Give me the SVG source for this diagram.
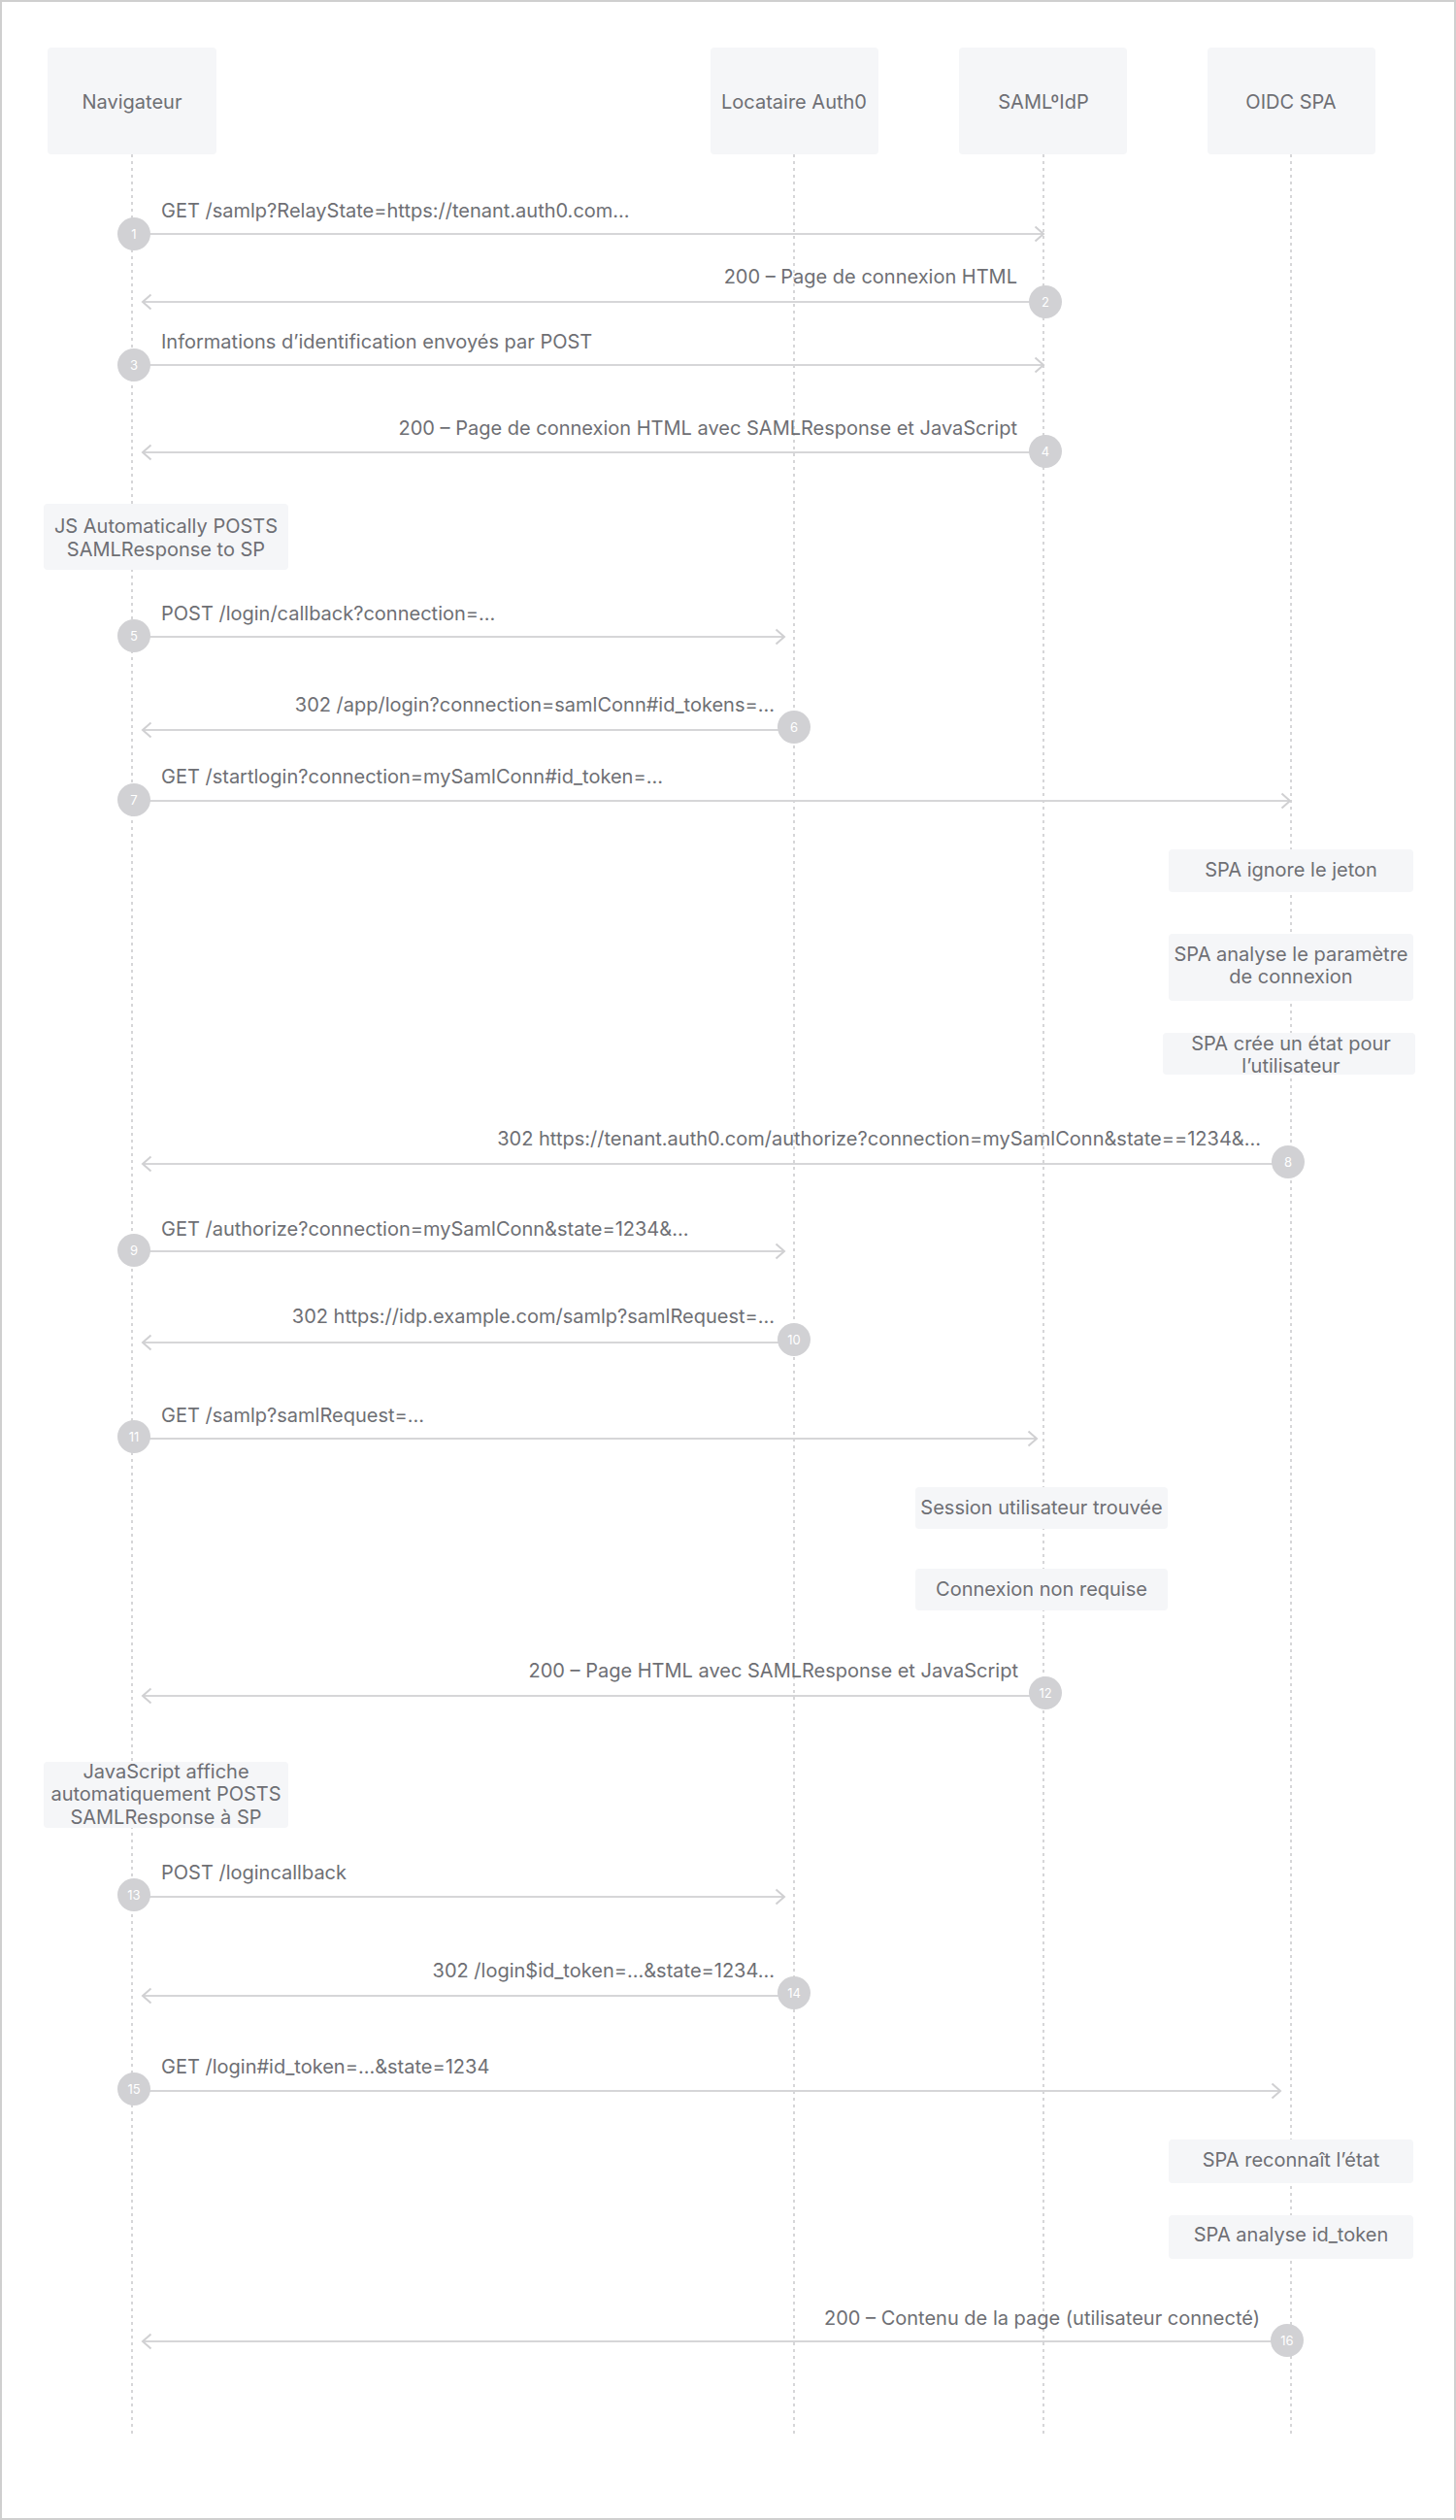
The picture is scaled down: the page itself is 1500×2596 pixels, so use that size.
<svg xmlns="http://www.w3.org/2000/svg" width="1500" height="2596" viewBox="0 0 1500 2596">
<style>
text{font-family:Inter,"Noto Sans","Liberation Sans",sans-serif;fill:#6e6f74;font-size:20px}
.hdr{fill:#f5f6f8}
.note{fill:#f5f6f8}
.life{stroke:#c9c9cb;stroke-width:1.5;stroke-dasharray:3 4;fill:none}
.msg{stroke:#d6d6d8;stroke-width:2;fill:none;marker-end:url(#arr)}
.num{fill:#d1d1d4}
.numt{fill:#ffffff;font-size:13px;text-anchor:middle}
.c{text-anchor:middle}
.e{text-anchor:end}
</style>
<defs>
<marker id="arr" viewBox="0 0 12 18" refX="10" refY="9" markerWidth="12" markerHeight="18" markerUnits="userSpaceOnUse" orient="auto">
<path d="M1.5,1.5 L10,9 L1.5,16.5" fill="none" stroke="#d0d0d2" stroke-width="2"/>
</marker>
</defs>
<rect x="1" y="1" width="1498" height="2594" fill="#ffffff" stroke="#cfcfcf" stroke-width="2"/>

<g id="lifelines">
<line class="life" x1="136" y1="159" x2="136" y2="2511"/>
<line class="life" x1="818" y1="159" x2="818" y2="2511"/>
<line class="life" x1="1075" y1="159" x2="1075" y2="2511"/>
<line class="life" x1="1330" y1="159" x2="1330" y2="2511"/>
</g>

<g id="node-navigateur"><rect class="hdr" x="49" y="49" width="174" height="110" rx="4"/><text class="c" x="136" y="112">Navigateur</text></g>
<g id="node-auth0"><rect class="hdr" x="732" y="49" width="173" height="110" rx="4"/><text class="c" x="818" y="112">Locataire Auth0</text></g>
<g id="node-samlidp"><rect class="hdr" x="988" y="49" width="173" height="110" rx="4"/><text class="c" x="1075" y="112">SAMLºIdP</text></g>
<g id="node-oidcspa"><rect class="hdr" x="1244" y="49" width="173" height="110" rx="4"/><text class="c" x="1330" y="112">OIDC SPA</text></g>

<g id="notes">
<g id="note-js"><rect class="note" x="45" y="519" width="252" height="68" rx="4"/><text class="c" x="171" y="549">JS Automatically POSTS</text><text class="c" x="171" y="573">SAMLResponse to SP</text></g>
<g id="note-ignore"><rect class="note" x="1204" y="875" width="252" height="44" rx="4"/><text class="c" x="1330" y="903">SPA ignore le jeton</text></g>
<g id="note-analyse"><rect class="note" x="1204" y="962" width="252" height="69" rx="4"/><text class="c" x="1330" y="990">SPA analyse le paramètre</text><text class="c" x="1330" y="1013">de connexion</text></g>
<g id="note-etat"><rect class="note" x="1198" y="1064" width="260" height="43" rx="4"/><text class="c" x="1330" y="1082">SPA crée un état pour</text><text class="c" x="1330" y="1105">l’utilisateur</text></g>
<g id="note-session"><rect class="note" x="943" y="1532" width="260" height="43" rx="4"/><text class="c" x="1073" y="1560">Session utilisateur trouvée</text></g>
<g id="note-connexion"><rect class="note" x="943" y="1616" width="260" height="43" rx="4"/><text class="c" x="1073" y="1644">Connexion non requise</text></g>
<g id="note-javascript"><rect class="note" x="45" y="1815" width="252" height="68" rx="4"/><text class="c" x="171" y="1832">JavaScript affiche</text><text class="c" x="171" y="1855">automatiquement POSTS</text><text class="c" x="171" y="1879">SAMLResponse à SP</text></g>
<g id="note-reconnait"><rect class="note" x="1204" y="2204" width="252" height="45" rx="4"/><text class="c" x="1330" y="2232">SPA reconnaît l’état</text></g>
<g id="note-idtoken"><rect class="note" x="1204" y="2282" width="252" height="45" rx="4"/><text class="c" x="1330" y="2309">SPA analyse id_token</text></g>
</g>

<g id="connectors">
<line class="msg" x1="136" y1="241" x2="1075" y2="241"/>
<line class="msg" x1="1077" y1="311" x2="147" y2="311"/>
<line class="msg" x1="136" y1="376" x2="1075" y2="376"/>
<line class="msg" x1="1077" y1="466" x2="147" y2="466"/>
<line class="msg" x1="136" y1="656" x2="808" y2="656"/>
<line class="msg" x1="818" y1="752" x2="147" y2="752"/>
<line class="msg" x1="136" y1="825" x2="1329" y2="825"/>
<line class="msg" x1="1327" y1="1199" x2="147" y2="1199"/>
<line class="msg" x1="136" y1="1289" x2="808" y2="1289"/>
<line class="msg" x1="818" y1="1383" x2="147" y2="1383"/>
<line class="msg" x1="136" y1="1482" x2="1068" y2="1482"/>
<line class="msg" x1="1077" y1="1747" x2="147" y2="1747"/>
<line class="msg" x1="136" y1="1954" x2="808" y2="1954"/>
<line class="msg" x1="818" y1="2056" x2="147" y2="2056"/>
<line class="msg" x1="136" y1="2154" x2="1319" y2="2154"/>
<line class="msg" x1="1326" y1="2412" x2="147" y2="2412"/>
</g>

<g id="labels">
<text x="166" y="224">GET /samlp?RelayState=https://tenant.auth0.com...</text>
<text class="e" x="1048" y="292">200 – Page de connexion HTML</text>
<text x="166" y="359">Informations d’identification envoyés par POST</text>
<text class="e" x="1048" y="448">200 – Page de connexion HTML avec SAMLResponse et JavaScript</text>
<text x="166" y="639">POST /login/callback?connection=...</text>
<text class="e" x="798" y="733">302 /app/login?connection=samlConn#id_tokens=...</text>
<text x="166" y="807">GET /startlogin?connection=mySamlConn#id_token=...</text>
<text class="e" x="1299" y="1180">302 https://tenant.auth0.com/authorize?connection=mySamlConn&amp;state==1234&amp;...</text>
<text x="166" y="1273">GET /authorize?connection=mySamlConn&amp;state=1234&amp;...</text>
<text class="e" x="798" y="1363">302 https://idp.example.com/samlp?samlRequest=...</text>
<text x="166" y="1465">GET /samlp?samlRequest=...</text>
<text class="e" x="1049" y="1728">200 – Page HTML avec SAMLResponse et JavaScript</text>
<text x="166" y="1936">POST /logincallback</text>
<text class="e" x="798" y="2037">302 /login$id_token=...&amp;state=1234...</text>
<text x="166" y="2136">GET /login#id_token=...&amp;state=1234</text>
<text class="e" x="1298" y="2395">200 – Contenu de la page (utilisateur connecté)</text>
</g>

<g id="steps">
<g><circle class="num" cx="138" cy="241" r="17"/><text class="numt" x="138" y="246">1</text></g>
<g><circle class="num" cx="1077" cy="311" r="17"/><text class="numt" x="1077" y="316">2</text></g>
<g><circle class="num" cx="138" cy="376" r="17"/><text class="numt" x="138" y="381">3</text></g>
<g><circle class="num" cx="1077" cy="465" r="17"/><text class="numt" x="1077" y="470">4</text></g>
<g><circle class="num" cx="138" cy="655" r="17"/><text class="numt" x="138" y="660">5</text></g>
<g><circle class="num" cx="818" cy="749" r="17"/><text class="numt" x="818" y="754">6</text></g>
<g><circle class="num" cx="138" cy="824" r="17"/><text class="numt" x="138" y="829">7</text></g>
<g><circle class="num" cx="1327" cy="1197" r="17"/><text class="numt" x="1327" y="1202">8</text></g>
<g><circle class="num" cx="138" cy="1288" r="17"/><text class="numt" x="138" y="1293">9</text></g>
<g><circle class="num" cx="818" cy="1380" r="17"/><text class="numt" x="818" y="1385">10</text></g>
<g><circle class="num" cx="138" cy="1480" r="17"/><text class="numt" x="138" y="1485">11</text></g>
<g><circle class="num" cx="1077" cy="1744" r="17"/><text class="numt" x="1077" y="1749">12</text></g>
<g><circle class="num" cx="138" cy="1952" r="17"/><text class="numt" x="138" y="1957">13</text></g>
<g><circle class="num" cx="818" cy="2053" r="17"/><text class="numt" x="818" y="2058">14</text></g>
<g><circle class="num" cx="138" cy="2152" r="17"/><text class="numt" x="138" y="2157">15</text></g>
<g><circle class="num" cx="1326" cy="2411" r="17"/><text class="numt" x="1326" y="2416">16</text></g>
</g>
</svg>
